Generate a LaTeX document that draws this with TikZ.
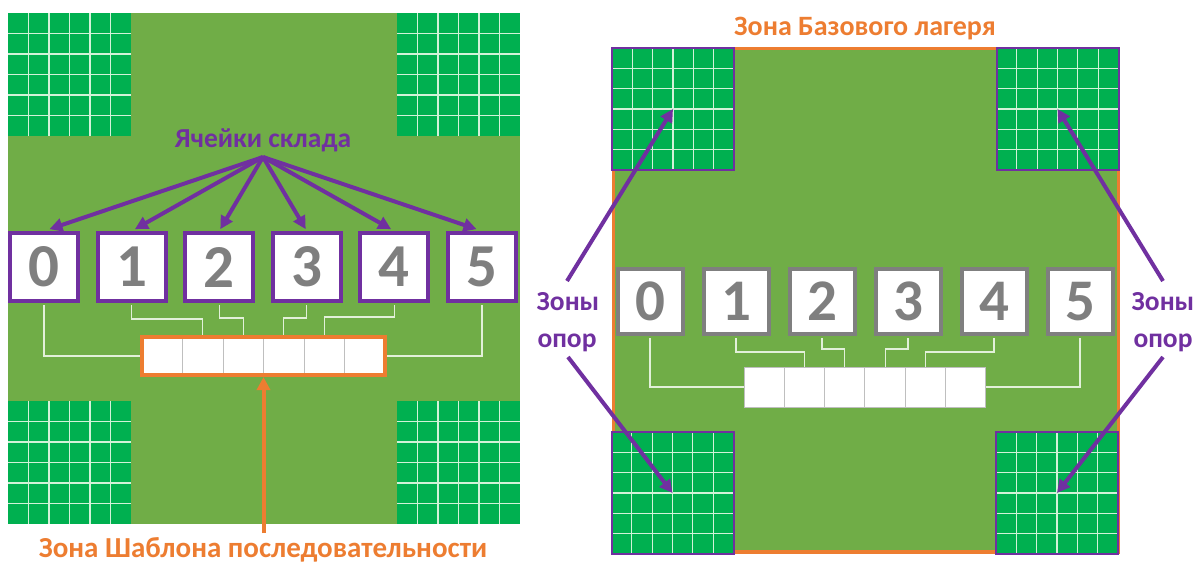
\documentclass[tikz,border=0pt]{standalone}
\usepackage{fontspec}
\setmainfont{Carlito}
\usetikzlibrary{arrows.meta,calc,fit}
\definecolor{fieldgreen}{HTML}{70AD47}
\definecolor{gridgreen}{HTML}{00B050}
\definecolor{gridln}{HTML}{D2F2D8}
\definecolor{violetc}{HTML}{7030A0}
\definecolor{orangec}{HTML}{ED7D31}
\definecolor{digitgrey}{HTML}{7F7F7F}
\definecolor{connc}{HTML}{E2F0D9}
\definecolor{sepgrey}{HTML}{BFBFBF}
% 6x6 store grid: #1 = left, #2 = top, #3 = size
\newcommand{\storegrid}[3]{%
  \fill[gridgreen] (#1,#2) rectangle ++(#3,#3);
  \foreach \k in {1,...,5}{%
    \draw[gridlinestyle] ({#1+#3*\k/6},#2) -- ++(0,#3);
    \draw[gridlinestyle] (#1,{#2+#3*\k/6}) -- ++(#3,0);
  }}
\begin{document}
\begin{tikzpicture}[x=1pt,y=-1pt,
  gridlinestyle/.style={draw=gridln, line width=1.1pt},
  rgridframe/.style={draw=violetc, line width=2pt},
  lbox/.style={draw=violetc, line width=4pt, fill=white, minimum size=68pt, inner sep=0pt, outer sep=2pt,
    text=digitgrey, font=\fontsize{61}{61}\selectfont\bfseries},
  rbox/.style={draw=digitgrey, line width=4pt, fill=white, minimum size=65pt, inner sep=0pt, outer sep=2pt,
    text=digitgrey, font=\fontsize{59}{59}\selectfont\bfseries},
  cellbox/.style={draw=sepgrey, line width=1pt, fill=white, minimum width=40.5pt, minimum height=38pt, inner sep=0pt, outer sep=0pt},
  rcellbox/.style={draw=sepgrey, line width=1pt, fill=white, minimum width=40.33pt, minimum height=40pt, inner sep=0pt, outer sep=0pt},
  conn/.style={draw=connc, line width=1.3pt},
  arr/.style={draw=violetc, line width=4pt, -{Triangle[length=13pt,width=13pt]}},
  oarr/.style={draw=orangec, line width=4pt, -{Triangle[length=13pt,width=13pt]}},
  lbl/.style={font=\fontsize{27.5}{27.5}\selectfont\bfseries, anchor=base, inner sep=0pt}
]
\useasboundingbox (0,0) rectangle (1198,563);
\fill[white] (0,0) rectangle (1198,563);

% ---------- left panel ----------
\fill[fieldgreen] (8,13) rectangle (520,524);
\storegrid{8}{13}{123}
\storegrid{397}{13}{123}
\storegrid{8}{401}{123}
\storegrid{397}{401}{123}

\foreach \i [evaluate=\i as \x using 44+87.6*\i] in {0,...,5}
  \node[lbox] (l\i) at (\x,267) {\i};

\foreach \i [evaluate=\i as \x using 142+40.5*\i-20.25] in {1,...,6}
  \node[cellbox] (lc\i) at (\x,356) {};
\node[fit=(lc1)(lc6), draw=orangec, line width=4pt, inner sep=0pt, outer sep=2pt] (lbar) {};

\draw[conn] ([yshift=-2pt]l0.south) |- (lbar.west);
\draw[conn] ([yshift=-2pt]l1.south) -- ++(0,14) -| (lc2.north |- lbar.north);
\draw[conn] ([yshift=-2pt]l2.south) -- ++(0,13) -| (lc3.north |- lbar.north);
\draw[conn] ([yshift=-2pt]l3.south) -- ++(0,13) -| (lc4.north |- lbar.north);
\draw[conn] ([yshift=-2pt]l4.south) -- ++(0,12) -| (lc5.north |- lbar.north);
\draw[conn] ([yshift=-2pt]l5.south) |- (lbar.east);

\node[lbl, text=violetc] (cellslbl) at (263,147) {Ячейки склада};
\coordinate (src) at (263,157);
\foreach \i in {0,...,5}
  \draw[arr] (src) -- ($(l\i.north)!0.025!(src)$);

\node[lbl, text=orangec, font=\fontsize{29}{29}\selectfont\bfseries] (seqlbl) at (263,557) {Зона Шаблона последовательности};
\coordinate (ob) at (263.5,533);
\draw[oarr] (ob) -- (lbar.south);

% ---------- right panel ----------
\node[lbl, text=orangec, font=\fontsize{28}{28}\selectfont\bfseries] (baselbl) at (865,35) {Зона Базового лагеря};
\draw[orangec, line width=3.5pt, fill=fieldgreen] (613.5,48.5) rectangle (1118.5,552);
\storegrid{612}{48}{122}
\storegrid{996.5}{48}{122}
\storegrid{611.5}{432}{122}
\storegrid{996}{432}{122}
\coordinate (rgtl) at (673,109);
\coordinate (rgtr) at (1057.5,109);
\coordinate (rgbl) at (672.5,493);
\coordinate (rgbr) at (1057,493);
\draw[rgridframe] (612,48) rectangle ++(122,122);
\draw[rgridframe] (996.5,48) rectangle ++(122,122);
\draw[rgridframe] (611.5,432) rectangle ++(122,122);
\draw[rgridframe] (996,432) rectangle ++(122,122);

\foreach \i [evaluate=\i as \x using 650+86*\i] in {0,...,5}
  \node[rbox] (r\i) at (\x,301.5) {\i};

\foreach \i [evaluate=\i as \x using 744+40.33*\i-20.17] in {1,...,6}
  \node[rcellbox] (rc\i) at (\x,387) {};

\draw[conn] ([yshift=-2pt]r0.south) |- (rc1.west);
\draw[conn] ([yshift=-2pt]r1.south) -- ++(0,14) -| (rc2.north);
\draw[conn] ([yshift=-2pt]r2.south) -- ++(0,11) -| (rc3.north);
\draw[conn] ([yshift=-2pt]r3.south) -- ++(0,11) -| (rc4.north);
\draw[conn] ([yshift=-2pt]r4.south) -- ++(0,14) -| (rc5.north);
\draw[conn] ([yshift=-2pt]r5.south) |- (rc6.east);

\node[lbl, text=violetc] (zl1) at (568,310) {Зоны};
\node[lbl, text=violetc] (zl2) at (567,347) {опор};
\node[lbl, text=violetc] (zr1) at (1163,310) {Зоны};
\node[lbl, text=violetc] (zr2) at (1163,347) {опор};

\coordinate (zlu) at (567,281);
\coordinate (zld) at (568,357);
\coordinate (zru) at (1163,281);
\coordinate (zrd) at (1163,357);
\draw[arr] (zlu) -- (rgtl);
\draw[arr] (zld) -- (rgbl);
\draw[arr] (zru) -- (rgtr);
\draw[arr] (zrd) -- (rgbr);
\end{tikzpicture}
\end{document}
